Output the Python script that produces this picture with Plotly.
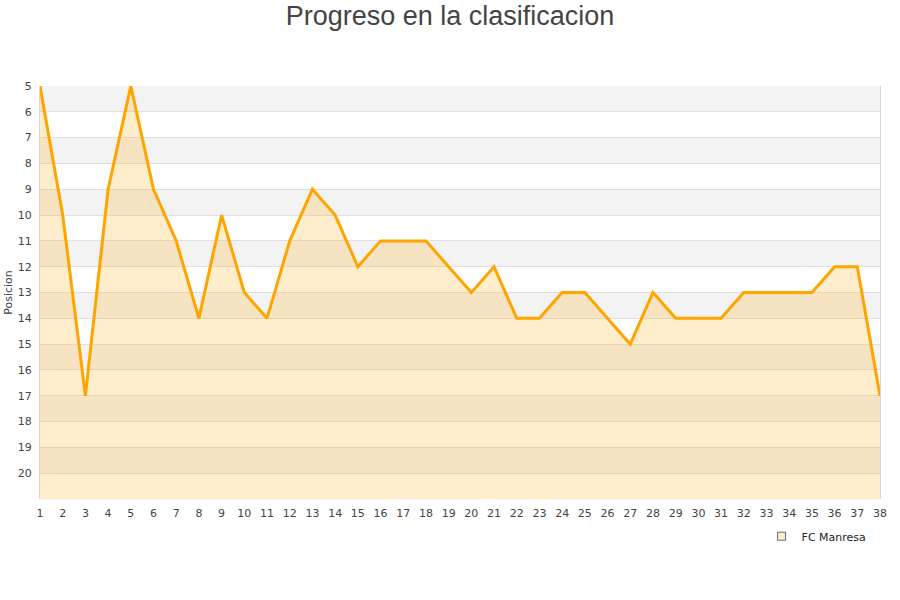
import plotly.graph_objects as go

# Jornadas y posicion del FC Manresa
jornadas = list(range(1, 39))
posicion = [5, 10, 17, 9, 5, 9, 11, 14, 10, 13, 14, 11, 9, 10, 12, 11, 11, 11, 12, 13,
            12, 14, 14, 13, 13, 14, 15, 13, 14, 14, 14, 13, 13, 13, 13, 12, 12, 17]
y_ticks = list(range(5, 21))
fondo = 21

fig = go.Figure()

# linea base invisible para rellenar hacia abajo
fig.add_trace(go.Scatter(x=jornadas, y=[fondo] * len(jornadas), mode="lines",
                         line=dict(width=0), showlegend=False, hoverinfo="skip"))
fig.add_trace(go.Scatter(x=jornadas, y=posicion, mode="lines", name="FC Manresa",
                         line=dict(color="#ffa500", width=3), showlegend=False,
                         fill="tonexty", fillcolor="rgba(255,165,0,0.2)"))
# entrada de leyenda con cuadrado
fig.add_trace(go.Scatter(x=[None], y=[None], mode="markers", name="FC Manresa",
                         marker=dict(symbol="square", size=8, color="#ffedcc",
                                     line=dict(color="#666", width=1))))

# bandas alternas
for b in range(5, 21, 2):
    fig.add_shape(type="rect", xref="paper", yref="y", x0=0, x1=1, y0=b, y1=b + 1,
                  fillcolor="#f3f3f3", line=dict(width=0), layer="below")

fig.update_layout(
    width=900, height=600,
    paper_bgcolor="white", plot_bgcolor="white",
    title=dict(text="Progreso en la clasificacion", x=0.5, y=0.99, yanchor="top",
               font=dict(family="Liberation Sans, Arial", size=27, color="#444")),
    margin=dict(l=40, r=20, t=86, b=101),
    font=dict(family="DejaVu Sans", size=11, color="#444"),
    showlegend=True,
    legend=dict(orientation="h", x=0.99, xanchor="right", y=-0.055, yanchor="top",
                font=dict(size=11, color="#222")),
)
fig.update_xaxes(range=[1, 38], tickmode="array", tickvals=jornadas, showgrid=False,
                 zeroline=False, showline=False, ticks="", automargin=False,
                 ticklabelstandoff=6)
fig.update_yaxes(range=[fondo, 5], tickmode="array", tickvals=y_ticks, showgrid=True,
                 gridcolor="#e0e0e0", gridwidth=1, zeroline=False, showline=True,
                 linecolor="#d8d8d8", mirror=True, ticks="", automargin=False,
                 ticklabelstandoff=5,
                 title=dict(text="Posicion", font=dict(size=11), standoff=2))

fig.write_html("out.html", config={"displayModeBar": False},
               post_script="document.body.style.margin='0';")
